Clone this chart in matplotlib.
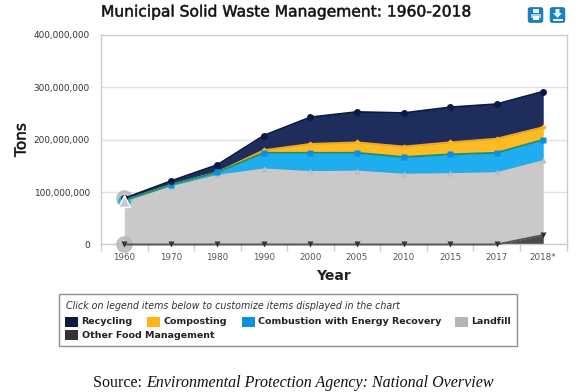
import matplotlib
matplotlib.use("Agg")
import matplotlib.pyplot as plt
import matplotlib.patheffects as pe
import numpy as np
from matplotlib.patches import Rectangle, FancyBboxPatch, Polygon
from matplotlib.ticker import FuncFormatter

years = ['1960', '1970', '1980', '1990', '2000', '2005', '2010', '2015', '2017', '2018*']

# millions of tons, bottom of the stack first
other_food = [0, 0, 0, 0, 0, 0, 0, 0, 0, 18]
landfill = [84, 113, 135, 147, 142, 143, 137, 138, 140, 145]
combustion = [0, 1, 3, 28, 33, 32, 30, 34, 35, 37]
composting = [0, 0, 0, 5, 17, 20, 20, 23, 27, 24]
recycling = [4, 7, 14, 28, 51, 58, 64, 67, 66, 68]

names = ['Recycling', 'Composting', 'Combustion with Energy Recovery', 'Landfill', 'Other Food Management']
legend_colors = ['#0b1a45', '#fdb515', '#0a90e0', '#b5b5b5', '#333333']

x = np.arange(len(years))
series = [other_food, landfill, combustion, composting, recycling]
fills = ['#4a4a4a', '#c9c9c9', '#1eaeef', '#fdbb25', '#1f2d5c']
edges = ['#555555', '#29a9e6', '#16907f', '#f0a81c', '#0a1a45']
marks = ['v', '^', 's', 'D', 'o']
mark_colors = ['#333333', '#bdbdbd', '#0a90e0', '#fdb515', '#0b1a45']
mark_sizes = [4.5, 4.5, 4.8, 3.2, 5]

fig = plt.figure(figsize=(5.8, 3.92), dpi=100)
ax = fig.add_axes([101/580, 1-244.5/392, 465.5/580, 209.5/392])

vals = np.array(series, float)*1e6
tops = np.cumsum(vals, axis=0)
bottom = np.zeros(len(x))
for i in range(5):
    ax.fill_between(x, bottom, tops[i], color=fills[i], lw=0, zorder=2)
    bottom = tops[i]

# halo on the first point, the chart had it hovered
ax.plot([0, 0], [tops[4][0], 0], ls='none', marker='o', ms=11, color='#b8b8b8', alpha=0.85, zorder=3, clip_on=False)
ax.plot([0], [tops[2][0]], marker='o', ms=8, color='#1eaeef', zorder=3)

for i in [0, 1, 3, 2, 4]:
    ax.plot(x, tops[i], color=edges[i], lw=1.4, zorder=4, clip_on=False)
# squares go over the diamonds so the empty composting years stay hidden
for i in [0, 1, 3, 2, 4]:
    c = mark_colors[i]
    if i == 1:
        ax.plot(x, tops[i]-2e6, ls='none', marker=marks[i], ms=mark_sizes[i], color=c, mec='none', zorder=5)
    else:
        ax.plot(x, tops[i], ls='none', marker=marks[i], ms=mark_sizes[i], color=c, mec='none', zorder=5, clip_on=False)
ax.plot([0], [tops[1][0]], marker='^', ms=8, mfc='#c9c9c9', mec='white', mew=1, zorder=6)

ax.set_xlim(-0.5, 9.5)
ax.set_ylim(0, 4e8)
ax.set_xticks(x)
ax.set_xticklabels(years, fontsize=6.3, color='#555555')
ax.set_xticks(np.arange(-0.5, 10, 1), minor=True)
ax.tick_params(axis='x', which='major', length=0, pad=6)
ax.tick_params(axis='x', which='minor', length=5, color='#c8ccd0', width=1)
ax.set_yticks(np.arange(0, 5e8, 1e8))
ax.yaxis.set_major_formatter(FuncFormatter(lambda v, p: f'{int(v):,}'))
ax.tick_params(axis='y', length=0, pad=8, labelsize=6.4, labelcolor='#333333')
ax.grid(axis='y', color='#dfe2e6', lw=1, zorder=1)
ax.set_axisbelow(True)
for s in ax.spines.values():
    s.set_color('#c8ccd0')
    s.set_linewidth(1)

# everything outside the plot, placed in pixels
top = fig.add_axes([0, 0, 1, 1], zorder=10)
top.set_xlim(0, 580)
top.set_ylim(392, 0)
top.axis('off')
top.patch.set_alpha(0)

thick = [pe.Stroke(linewidth=0.4, foreground='#111111')]
top.text(101, 12, 'Municipal Solid Waste Management: 1960-2018', fontsize=11.15, color='#111111',
         va='center', ha='left', path_effects=thick)
top.text(21, 140, 'Tons', fontsize=11, rotation=90, va='center', ha='center', color='#111111', path_effects=thick)
top.text(333, 276, 'Year', fontsize=10, fontweight='bold', va='center', ha='center', color='#222222')

# print and download buttons
for bx in [528.5, 550.5]:
    top.add_patch(FancyBboxPatch((bx, 8), 14, 14, boxstyle='round,pad=0.3,rounding_size=2', fc='#1583c0', ec='#0f6fa6', lw=0.6))
top.add_patch(Rectangle((532.5, 9), 6, 4, fc='#e4f2fa', ec='none'))
top.add_patch(Rectangle((530.5, 13.5), 10, 4, fc='#9fd0ea', ec='none'))
top.add_patch(Rectangle((532.5, 16), 6, 4, fc='#ffffff', ec='none'))
top.add_patch(Polygon([(555.5, 9), (559.5, 9), (559.5, 13), (562, 13), (557.5, 18), (553, 13), (555.5, 13)], fc='#e4f2fa', ec='none'))
top.add_patch(Rectangle((552.5, 18.5), 10, 2, fc='#e4f2fa', ec='none'))

# legend box
top.add_patch(Rectangle((58.5, 293.5), 458, 52, fc='white', ec='#8f8f8f', lw=1))
top.text(66, 306, 'Click on legend items below to customize items displayed in the chart',
         fontsize=6.85, style='italic', color='#333333', va='center')
lx = [65, 147, 242, 455, 65]
ly = [322, 322, 322, 322, 335]
for n, c, a, b in zip(names, legend_colors, lx, ly):
    top.add_patch(Rectangle((a, b-5), 12.5, 10, fc=c, ec='none'))
    top.text(a+16.5, b, n, fontsize=6.8, fontweight='bold', color='#222222', va='center')

top.text(93, 383, 'Source: ', family='Liberation Serif', fontsize=11.5, va='center', color='#111111')
top.text(146, 383, 'Environmental Protection Agency: National Overview', family='Liberation Serif',
         style='italic', fontsize=11.5, va='center', color='#111111')

fig.savefig('out.png', dpi=100)
